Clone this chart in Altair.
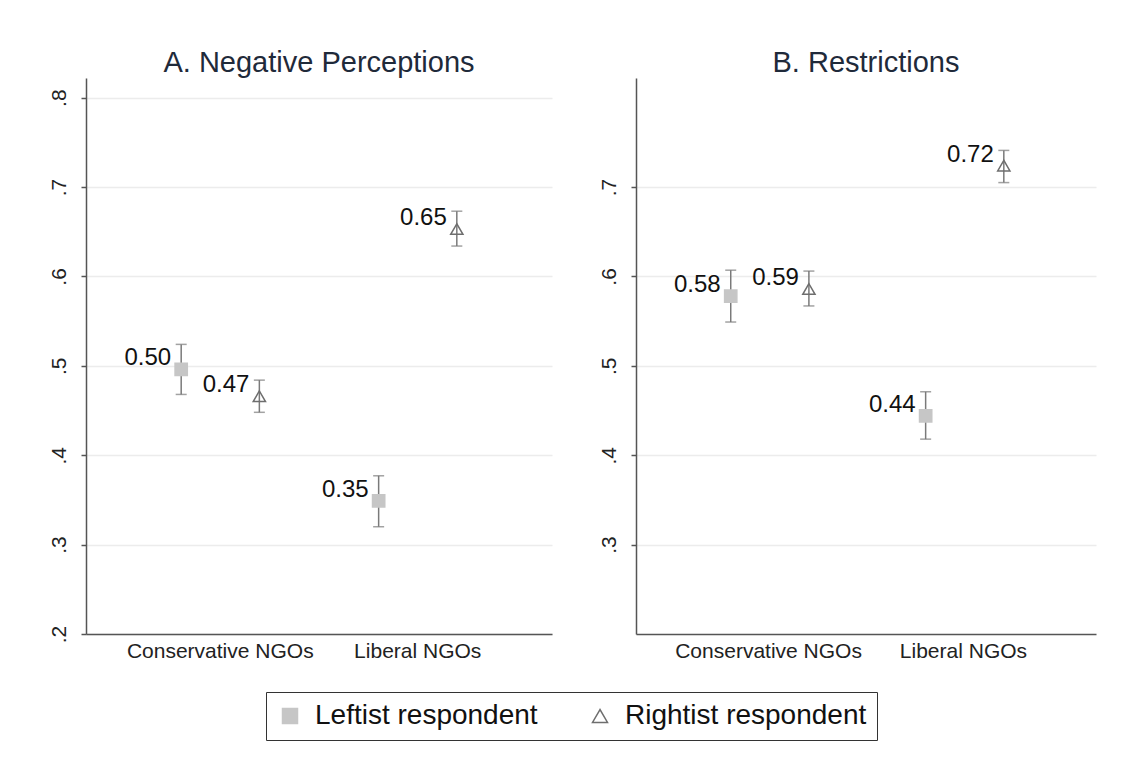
import altair as alt
import pandas as pd

panels = ["A. Negative Perceptions", "B. Restrictions"]
categories = ["Conservative NGOs", "Liberal NGOs"]
groups = ["Leftist respondent", "Rightist respondent"]

# rows: (Conservative, Leftist), (Conservative, Rightist), (Liberal, Leftist), (Liberal, Rightist)
row_category = ["Conservative NGOs", "Conservative NGOs", "Liberal NGOs", "Liberal NGOs"]
row_group = ["Leftist respondent", "Rightist respondent", "Leftist respondent", "Rightist respondent"]

neg_mean = [0.496, 0.466, 0.349, 0.653]
neg_low = [0.468, 0.448, 0.320, 0.634]
neg_high = [0.524, 0.484, 0.377, 0.673]

res_mean = [0.578, 0.586, 0.444, 0.724]
res_low = [0.549, 0.567, 0.418, 0.705]
res_high = [0.607, 0.606, 0.471, 0.741]

y_ticks_a = [0.2, 0.3, 0.4, 0.5, 0.6, 0.7, 0.8]
y_ticks_b = [0.3, 0.4, 0.5, 0.6, 0.7]
y_domain = [0.2, 0.822]

FONT = "Liberation Sans"
GRAY = "#7a7a7a"


def make_df(mean, low, high):
    return pd.DataFrame({
        "category": row_category,
        "group": row_group,
        "mean": mean,
        "low": low,
        "high": high,
    })


def panel(df, title, yvals, width, show_legend):
    base = alt.Chart(df).encode(
        x=alt.X(
            "category:N",
            sort=categories,
            scale=alt.Scale(domain=categories, paddingInner=0, paddingOuter=0.18),
            axis=alt.Axis(title=None, labelAngle=0, ticks=False, grid=False,
                          labelFontSize=21, labelPadding=6, labelColor="#222",
                          labelFont=FONT, labelLimit=0,
                          domainColor="#555", domainWidth=1.5),
        ),
        xOffset=alt.XOffset(
            "group:N",
            scale=alt.Scale(domain=groups, paddingInner=0, paddingOuter=0.263),
        ),
    )
    yscale = alt.Scale(domain=y_domain, nice=False, zero=False)
    yaxis = alt.Axis(
        title=None, values=yvals,
        labelExpr="replace(format(datum.value, '.1f'), '0.', '.')",
        labelAngle=270, labelFontSize=21, labelFont=FONT, labelColor="#222",
        labelPadding=12, tickSize=5, tickWidth=1.5, tickColor="#555",
        domainColor="#555", domainWidth=1.5,
        grid=True, gridColor="#ececec", gridWidth=1.5,
    )
    rules = base.mark_rule(color=GRAY, strokeWidth=1.5).encode(
        y=alt.Y("low:Q", scale=yscale, axis=yaxis),
        y2="high:Q",
    )
    cap_hi = base.mark_tick(color=GRAY, size=11, thickness=1.5, orient="horizontal").encode(
        y=alt.Y("high:Q", scale=yscale),
    )
    cap_lo = base.mark_tick(color=GRAY, size=11, thickness=1.5, orient="horizontal").encode(
        y=alt.Y("low:Q", scale=yscale),
    )
    legend = alt.Legend(
        title=None, orient="none", direction="horizontal",
        legendX=180, legendY=614,
        labelFontSize=28, labelFont=FONT, labelColor="#111", labelLimit=0,
        symbolSize=225, symbolStrokeWidth=1.5,
        strokeColor="#333", padding=10, columnPadding=48, labelOffset=11,
    ) if show_legend else None
    shape_kw = dict(scale=alt.Scale(domain=groups, range=["square", "triangle-up"]))
    fill_kw = dict(scale=alt.Scale(domain=groups, range=["#c6c6c6", "transparent"]))
    stroke_kw = dict(scale=alt.Scale(domain=groups, range=["#c6c6c6", "#6e6e6e"]))
    if legend is not None:
        shape_kw["legend"] = legend
        fill_kw["legend"] = legend
        stroke_kw["legend"] = legend
    else:
        shape_kw["legend"] = None
        fill_kw["legend"] = None
        stroke_kw["legend"] = None
    points = base.mark_point(size=150, strokeWidth=1.5, opacity=1).encode(
        y=alt.Y("mean:Q", scale=yscale),
        shape=alt.Shape("group:N", **shape_kw),
        fill=alt.Fill("group:N", **fill_kw),
        stroke=alt.Stroke("group:N", **stroke_kw),
    )
    labels = base.mark_text(align="right", baseline="middle", dx=-10, dy=-11,
                            fontSize=24, font=FONT, color="#111").encode(
        y=alt.Y("mean:Q", scale=yscale),
        text=alt.Text("mean:Q", format=".2f"),
    )
    return alt.layer(rules, cap_hi, cap_lo, points, labels).properties(
        width=width, height=556,
        title=alt.TitleParams(title, fontSize=29, font=FONT, fontWeight="normal",
                              color="#1f2a3a", anchor="middle", offset=0),
    )


left = panel(make_df(neg_mean, neg_low, neg_high), panels[0], y_ticks_a, 466, True)
right = panel(make_df(res_mean, res_low, res_high), panels[1], y_ticks_b, 460, False)

chart = alt.hconcat(left, right, spacing=46).resolve_scale(
    shape="shared", fill="shared", stroke="shared"
).properties(
    padding={"left": 40, "top": 41, "right": 5, "bottom": 5},
    background="white",
).configure_view(stroke=None)

chart.save("out.html", embed_options={"renderer": "svg", "actions": False})
